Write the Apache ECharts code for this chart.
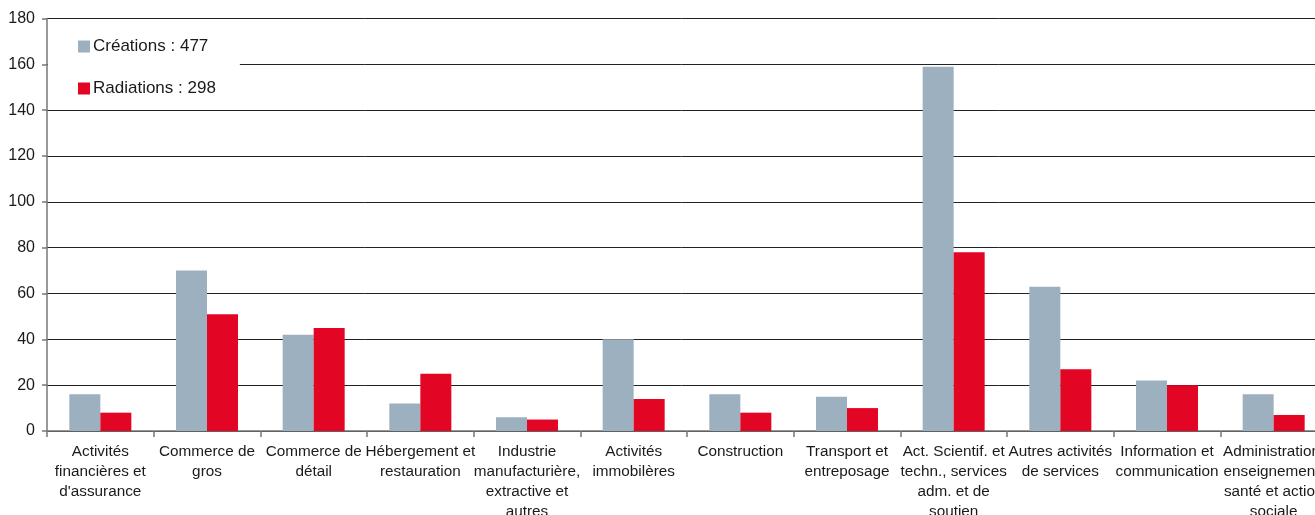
<!DOCTYPE html>
<html><head><meta charset="utf-8">
<script src="https://cdn.jsdelivr.net/npm/echarts@6/dist/echarts.min.js"></script>
<style>html,body{margin:0;padding:0;background:#fff;}#c{width:1315px;height:515px;}</style>
</head><body><div id="c"></div>
<script>
var categories = [
  "Activités\nfinancières et\nd'assurance",
  "Commerce de\ngros",
  "Commerce de\ndétail",
  "Hébergement et\nrestauration",
  "Industrie\nmanufacturière,\nextractive et\nautres",
  "Activités\nimmobilères",
  "Construction",
  "Transport et\nentreposage",
  "Act. Scientif. et\ntechn., services\nadm. et de\nsoutien",
  "Autres activités\nde services",
  "Information et\ncommunication",
  "Administration,\nenseignement,\nsanté et action\nsociale"
];
var creations = [16, 70, 42, 12, 6, 40, 16, 15, 159, 63, 22, 16];
var radiations = [8, 51, 45, 25, 5, 14, 8, 10, 78, 27, 20, 7];
var seriesNames = ["Créations : 477", "Radiations : 298"];
var yTicks = {min: 0, max: 180, interval: 20};

var font = "'Liberation Sans', Arial, Helvetica, sans-serif";
var chart = echarts.init(document.getElementById('c'), null, {renderer: 'canvas'});
chart.setOption({
  animation: false,
  backgroundColor: '#fff',
  textStyle: {fontFamily: font},
  grid: {left: 47, top: 18.5, bottom: 84, right: -12, containLabel: false, outerBoundsMode: 'none'},
  legend: {
    orient: 'vertical', left: 48, top: 28,
    padding: [10, 24, 10, 30],
    backgroundColor: '#fff',
    itemWidth: 12, itemHeight: 12, itemGap: 25,
    icon: 'rect',
    textStyle: {fontFamily: font, fontSize: 17, color: '#1a1a1a', padding: [0, 0, 0, -2]},
    data: seriesNames
  },
  xAxis: {
    type: 'category', data: categories,
    axisLine: {lineStyle: {color: '#777', width: 1.5}},
    axisTick: {show: true, length: 6, lineStyle: {color: '#777', width: 1.5}},
    axisLabel: {interval: 0, fontFamily: font, fontSize: 15.3, color: '#1a1a1a', lineHeight: 20, margin: 11}
  },
  yAxis: {
    type: 'value', min: yTicks.min, max: yTicks.max, interval: yTicks.interval,
    axisLine: {show: true, lineStyle: {color: '#777', width: 1.5}},
    axisTick: {show: true, length: 5, lineStyle: {color: '#777', width: 1.5}},
    axisLabel: {fontFamily: font, fontSize: 16, color: '#1a1a1a', margin: 12},
    splitLine: {lineStyle: {color: '#222', width: 1}}
  },
  series: [
    {name: seriesNames[0], type: 'bar', data: creations, barWidth: 31, barGap: '0%', itemStyle: {color: '#9DB0C0'}},
    {name: seriesNames[1], type: 'bar', data: radiations, barWidth: 31, barGap: '0%', itemStyle: {color: '#E30524'}}
  ]
});
</script></body></html>
